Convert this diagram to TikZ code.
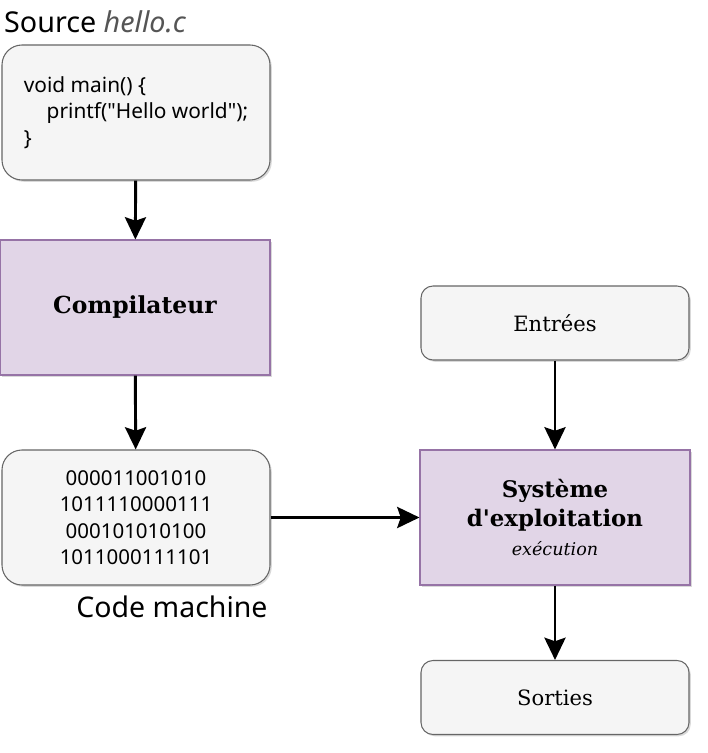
\documentclass[tikz,border=0pt]{standalone}
\usepackage{fontspec}
\setmainfont{DejaVu Serif}
\setsansfont{Noto Sans}
\usetikzlibrary{arrows.meta,shadows}

\definecolor{boxgray}{HTML}{F5F5F5}
\definecolor{boxline}{HTML}{666666}
\definecolor{osfill}{HTML}{E1D5E7}
\definecolor{osline}{HTML}{9673A6}
\definecolor{filegray}{HTML}{555555}

\begin{document}
\begin{tikzpicture}[x=0.03cm,y=-0.03cm,
    greybox/.style={draw=boxline,fill=boxgray,line width=0.9pt,rounded corners=0.6cm,
      minimum width=8.04cm,minimum height=4.05cm,inner sep=0pt,
      drop shadow={shadow xshift=1.5pt,shadow yshift=-1.5pt,opacity=0.15,fill=black}},
    smallbox/.style={greybox,rounded corners=0.36cm,minimum height=2.22cm},
    purplebox/.style={draw=osline,fill=osfill,line width=0.9pt,
      minimum width=8.1cm,minimum height=4.05cm,inner sep=0pt,
      drop shadow={shadow xshift=1.5pt,shadow yshift=-1.5pt,opacity=0.15,fill=black}},
    flow/.style={line width=2.5pt,-{Stealth[length=19pt,width=18pt,inset=3pt]}}]
   \useasboundingbox (0,0) rectangle (708,753);
   % left column
   \node[anchor=west,font=\sffamily\fontsize{24.5}{28}\selectfont] (srclabel) at (0,22)
     {Source \textcolor{filegray}{\itshape hello.c}};
   \node[greybox,align=left,font=\sffamily\fontsize{17.8}{22.5}\selectfont] (src) at (136,112.5)
     {void main() \{\\ \hspace*{19.5pt}printf(\textquotedbl Hello world\textquotedbl);\\ \}};
   \node[purplebox,font=\bfseries\fontsize{20}{24}\selectfont] (comp) at (135,307.5) {Compilateur};
   \node[greybox,align=center,font=\sffamily\fontsize{17.5}{22.5}\selectfont] (bin) at (136,517.5)
     {000011001010\\ 1011110000111\\ 000101010100\\ 1011000111101};
   \node[font=\sffamily\fontsize{24.3}{28}\selectfont] (binlabel) at (172,607) {Code machine};
   % right column
   \node[smallbox,font=\fontsize{18}{21}\selectfont] (in) at (555,323) {Entrées};
   \node[purplebox,align=center,font=\fontsize{19.5}{24.5}\selectfont] (os) at (555,517.5)
     {\textbf{Système}\\ \textbf{d\textquotesingle exploitation}\\ {\itshape\fontsize{15}{20}\selectfont exécution}};
   \node[smallbox,font=\fontsize{18}{21}\selectfont] (out) at (555,697.5) {Sorties};
   % arrows
   \draw[flow] (src) -- (comp);
   \draw[flow] (comp) -- (bin);
   \draw[flow] (bin) -- (os);
   \draw[flow] (in) -- (os);
   \draw[flow] (os) -- (out);
\end{tikzpicture}
\end{document}
